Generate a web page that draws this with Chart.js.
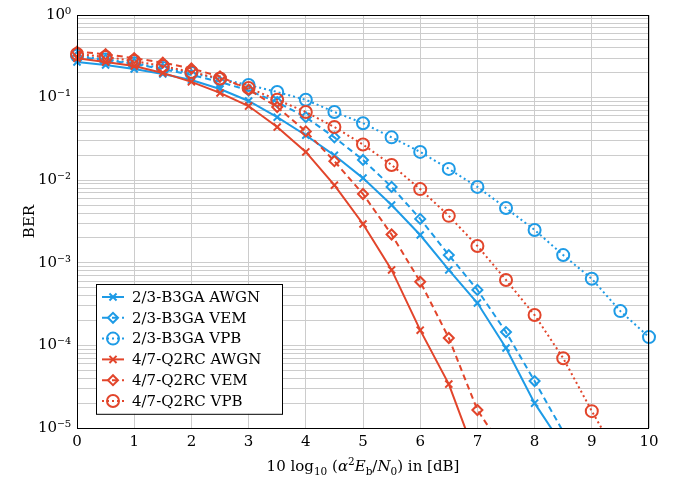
<!DOCTYPE html>
<html>
<head>
<meta charset="utf-8">
<script src="https://cdn.jsdelivr.net/npm/chart.js"></script>
<style>
  html, body { margin: 0; padding: 0; background: #fff; }
  canvas { display: block; }
</style>
</head>
<body>
<canvas id="ber-chart" width="673" height="481"></canvas>
<script>
// Eb/N0 grid of the simulation, in dB
const snrDb = [0, 0.5, 1, 1.5, 2, 2.5, 3, 3.5, 4, 4.5, 5, 5.5, 6, 6.5, 7, 7.5, 8, 8.5, 9, 9.5, 10];

// BER curves
const b3gaAwgn = [0.27, 0.248, 0.222, 0.193, 0.163, 0.127, 0.091, 0.058, 0.035, 0.020, 0.0106, 0.005, 0.00217, 8.2e-4, 3.26e-4, 9.3e-5, 2.0e-5, 6e-6];
const b3gaVem  = [0.31, 0.285, 0.255, 0.222, 0.188, 0.155, 0.122, 0.088, 0.058, 0.033, 0.0176, 0.0083, 0.0034, 0.00124, 4.7e-4, 1.45e-4, 3.7e-5, 9e-6];
const b3gaVpb  = [0.32, 0.29, 0.26, 0.228, 0.198, 0.168, 0.142, 0.117, 0.094, 0.067, 0.049, 0.033, 0.022, 0.0137, 0.0083, 0.0046, 0.0025, 0.00124, 6.4e-4, 2.6e-4, 1.26e-4];
const q2rcAwgn = [0.30, 0.27, 0.241, 0.199, 0.155, 0.114, 0.079, 0.044, 0.022, 0.0087, 0.00295, 8.2e-4, 1.53e-4, 3.4e-5, 4e-6];
const q2rcVem  = [0.36, 0.335, 0.30, 0.265, 0.225, 0.18, 0.125, 0.077, 0.039, 0.017, 0.0068, 0.0022, 5.9e-4, 1.23e-4, 1.65e-5, 5e-6];
const q2rcVpb  = [0.337, 0.31, 0.277, 0.241, 0.204, 0.17, 0.131, 0.094, 0.067, 0.044, 0.027, 0.0153, 0.0078, 0.0037, 0.0016, 6.2e-4, 2.33e-4, 7.0e-5, 1.6e-5, 4e-6];

const seriesLabels = ['2/3-B3GA AWGN', '2/3-B3GA VEM', '2/3-B3GA VPB', '4/7-Q2RC AWGN', '4/7-Q2RC VEM', '4/7-Q2RC VPB'];

const BLUE = '#1e9be6';
const RED = '#e2452b';
const FONT = "'DejaVu Serif', serif";
const Y_MIN = 1e-5;

const STYLES = {
  awgn: { dash: [], point: 'crossRot', radius: 5 },
  vem: { dash: [6, 4], point: 'rectRot', radius: 5 },
  vpb: { dash: [2, 3], point: 'circle', radius: 6 },
};

function toPoints(values) {
  return values.map((v, i) => ({ x: snrDb[i], y: v }));
}

function makeDataset(label, values, color, kind, order) {
  const s = STYLES[kind];
  return {
    label: label,
    data: toPoints(values),
    borderColor: color,
    borderWidth: 2,
    borderDash: s.dash,
    pointStyle: s.point,
    legendRadius: s.radius,
    // no marker for points below the axis, only the line runs off
    pointRadius: c => (c.raw && c.raw.y < Y_MIN ? 0 : s.radius),
    pointBorderWidth: 2,
    pointBorderColor: color,
    pointBackgroundColor: 'rgba(0,0,0,0)',
    tension: 0,
    order: order,
    clip: { left: false, right: false, top: false, bottom: 0 },
  };
}

const SUP = { '0': '⁰', '1': '¹', '2': '²', '3': '³', '4': '⁴', '5': '⁵', '-': '⁻' };
function powLabel(v) {
  const e = Math.log10(v);
  const r = Math.round(e);
  if (Math.abs(e - r) > 1e-6) return '';
  return '10' + String(r).split('').map(c => SUP[c]).join('');
}

// Draws a short run of text with sub/superscripts, centred on (cx, cy)
function drawRich(ctx, parts, cx, cy, size) {
  const fontFor = p => (p.italic ? 'italic ' : '') + ((p.sub || p.sup) ? size * 0.7 : size) + 'px ' + FONT;
  let total = 0;
  parts.forEach(p => { ctx.font = fontFor(p); total += ctx.measureText(p.t).width; });
  let x = cx - total / 2;
  ctx.textAlign = 'left';
  ctx.textBaseline = 'alphabetic';
  const base = cy + size * 0.35;
  parts.forEach(p => {
    ctx.font = fontFor(p);
    let y = base;
    if (p.sub) y += size * 0.25;
    if (p.sup) y -= size * 0.4;
    ctx.fillText(p.t, x, y);
    x += ctx.measureText(p.t).width;
  });
}

const xTitle = [
  { t: '10 log' }, { t: '10', sub: true }, { t: ' (' }, { t: 'α', italic: true }, { t: '2', sup: true },
  { t: 'E', italic: true }, { t: 'b', sub: true }, { t: '/' }, { t: 'N', italic: true }, { t: '0', sub: true },
  { t: ') in [dB]' },
];

const decorations = {
  id: 'decorations',
  afterDraw(chart) {
    const ctx = chart.ctx;
    const a = chart.chartArea;
    ctx.save();

    // frame around the plot
    ctx.strokeStyle = '#000';
    ctx.lineWidth = 1;
    ctx.setLineDash([]);
    ctx.strokeRect(Math.round(a.left) + 0.5, Math.round(a.top) + 0.5,
      Math.round(a.right - a.left) - 1, Math.round(a.bottom - a.top));

    // legend box, lower left inside the plot
    const lx = a.left + 19, ly = a.top + 269, lw = 186, rowH = 20.8;
    const lh = rowH * seriesLabels.length + 5;
    ctx.fillStyle = '#fff';
    ctx.fillRect(lx, ly, lw, lh);
    ctx.strokeStyle = '#000';
    ctx.strokeRect(lx + 0.5, ly + 0.5, lw, lh);

    chart.data.datasets.forEach((ds, i) => {
      const y = ly + 13 + i * rowH;
      const x0 = lx + 6, x1 = lx + 28;
      ctx.strokeStyle = ds.borderColor;
      ctx.lineWidth = 2;
      ctx.setLineDash(ds.borderDash);
      ctx.beginPath();
      ctx.moveTo(x0, y);
      ctx.lineTo(x1, y);
      ctx.stroke();
      ctx.setLineDash([]);
      ctx.fillStyle = 'rgba(0,0,0,0)';
      Chart.helpers.drawPoint(ctx, {
        pointStyle: ds.pointStyle, radius: ds.legendRadius, rotation: 0, borderWidth: 2,
      }, (x0 + x1) / 2, y);
      ctx.fillStyle = '#000';
      ctx.font = '15px ' + FONT;
      ctx.textAlign = 'left';
      ctx.textBaseline = 'middle';
      ctx.fillText(ds.label, lx + 36, y + 1);
    });

    // axis titles
    ctx.fillStyle = '#000';
    drawRich(ctx, xTitle, (a.left + a.right) / 2, 466, 15);
    ctx.translate(30, (a.top + a.bottom) / 2);
    ctx.rotate(-Math.PI / 2);
    ctx.font = '15px ' + FONT;
    ctx.textAlign = 'center';
    ctx.textBaseline = 'middle';
    ctx.fillText('BER', 0, 0);
    ctx.restore();
  },
};

const ctx = document.getElementById('ber-chart').getContext('2d');

new Chart(ctx, {
  type: 'line',
  data: {
    datasets: [
      makeDataset(seriesLabels[0], b3gaAwgn, BLUE, 'awgn', 1),
      makeDataset(seriesLabels[1], b3gaVem, BLUE, 'vem', 1),
      makeDataset(seriesLabels[2], b3gaVpb, BLUE, 'vpb', 1),
      makeDataset(seriesLabels[3], q2rcAwgn, RED, 'awgn', 0),
      makeDataset(seriesLabels[4], q2rcVem, RED, 'vem', 0),
      makeDataset(seriesLabels[5], q2rcVpb, RED, 'vpb', 0),
    ],
  },
  options: {
    responsive: false,
    animation: false,
    devicePixelRatio: 1,
    layout: { padding: { left: 0, right: 24, top: 15, bottom: 0 } },
    plugins: {
      legend: { display: false },
      tooltip: { enabled: false },
    },
    scales: {
      x: {
        type: 'linear',
        min: 0,
        max: 10,
        grid: { color: '#cccccc', lineWidth: 1, drawTicks: false },
        border: { display: false },
        ticks: {
          stepSize: 1,
          color: '#000',
          padding: 5,
          font: { family: FONT, size: 15 },
        },
        afterFit(scale) { scale.height = 53; },
      },
      y: {
        type: 'logarithmic',
        min: Y_MIN,
        max: 1,
        grid: { color: '#cccccc', lineWidth: 1, drawTicks: false },
        border: { display: false },
        ticks: {
          autoSkip: false,
          color: '#000',
          padding: 6,
          font: { family: FONT, size: 15 },
          callback: v => powLabel(v),
        },
        afterBuildTicks(scale) {
          const ticks = [];
          for (let e = -5; e < 0; e++) {
            for (let m = 1; m < 10; m++) ticks.push({ value: m * Math.pow(10, e) });
          }
          ticks.push({ value: 1 });
          scale.ticks = ticks;
        },
        afterFit(scale) { scale.width = 77; },
      },
    },
  },
  plugins: [decorations],
});
</script>
</body>
</html>
